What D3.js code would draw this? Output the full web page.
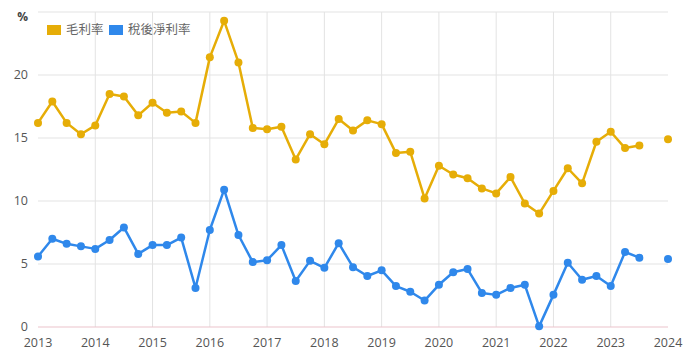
<!DOCTYPE html>
<html><head><meta charset="utf-8">
<script src="https://cdn.jsdelivr.net/npm/d3@7/dist/d3.min.js"></script>
<style>
html,body{margin:0;padding:0;background:#fff;}
text{font-family:"Open Sans","Noto Sans CJK TC",sans-serif;}
</style></head>
<body><svg id="c" width="696" height="361"></svg>
<script>
// quarters from 2013 Q1 (null = missing)
const quarters = d3.range(45).map(i => 2013 + i / 4);
const grossMargin = [16.2,17.9,16.2,15.3, 16.0,18.5,18.3,16.8, 17.8,17.0,17.1,16.2,
  21.4,24.3,21.0,15.8, 15.7,15.9,13.3,15.3, 14.5,16.5,15.6,16.4, 16.1,13.8,13.9,10.2,
  12.8,12.1,11.8,11.0, 10.6,11.9,9.8,9.0, 10.8,12.6,11.4,14.7, 15.5,14.2,14.4,null, 14.9];
const netMargin = [5.6,7.0,6.6,6.4, 6.2,6.9,7.9,5.8, 6.5,6.5,7.1,3.1,
  7.7,10.9,7.3,5.15, 5.3,6.5,3.65,5.25, 4.7,6.65,4.75,4.05, 4.5,3.25,2.8,2.1,
  3.35,4.35,4.6,2.7, 2.55,3.1,3.35,0.05, 2.55,5.1,3.75,4.05, 3.25,5.95,5.5,null, 5.4];
const yearTicks = d3.range(2013, 2025);
const yTicks = [0,5,10,15,20,25];
const seriesNames = ["毛利率","稅後淨利率"];
const colors = ["#e6ad07","#2f88eb"];

const svg = d3.select("#c");
const x = d3.scaleLinear().domain([2013, 2024]).range([38, 668]);
const y = d3.scaleLinear().domain([0, 25]).range([327, 12]);

// grid
svg.append("g").selectAll("line").data(yTicks.filter(v => v > 0)).join("line")
  .attr("x1", 38).attr("x2", 668).attr("y1", d => y(d)).attr("y2", d => y(d))
  .attr("stroke", "#e3e3e3").attr("stroke-width", 1);
svg.append("g").selectAll("line").data(yearTicks.filter(v => v > 2013 && v < 2024)).join("line")
  .attr("x1", d => x(d)).attr("x2", d => x(d)).attr("y1", 12).attr("y2", 327)
  .attr("stroke", "#e3e3e3").attr("stroke-width", 1);
svg.append("line").attr("x1", 38).attr("x2", 668).attr("y1", y(0)).attr("y2", y(0))
  .attr("stroke", "#ecc3cb").attr("stroke-width", 1.2);

// y labels
svg.append("g").selectAll("text").data(yTicks.filter(v => v < 25)).join("text")
  .attr("x", 28).attr("y", d => y(d)).attr("dy", "0.35em").attr("text-anchor", "end")
  .attr("font-size", 12.5).attr("fill", "#555").text(d => d);
svg.append("text").attr("x", 28).attr("y", 17).attr("dy", "0.35em").attr("text-anchor", "end")
  .attr("font-size", 12).attr("font-weight", "bold").attr("fill", "#444").text("%");

// x labels
svg.append("g").selectAll("text").data(yearTicks).join("text")
  .attr("x", d => x(d)).attr("y", 343).attr("dy", "0.35em").attr("text-anchor", "middle")
  .attr("font-size", 12.5).attr("fill", "#555").text(d => d);

// series
[grossMargin, netMargin].forEach((vals, i) => {
  const pts = quarters.map((q, j) => ({q, v: vals[j]}));
  const line = d3.line().defined(d => d.v != null).x(d => x(d.q)).y(d => y(d.v));
  svg.append("path").datum(pts).attr("d", line).attr("fill", "none")
    .attr("stroke", colors[i]).attr("stroke-width", 2.5).attr("stroke-linejoin", "round");
  svg.append("g").selectAll("circle").data(pts.filter(d => d.v != null)).join("circle")
    .attr("cx", d => x(d.q)).attr("cy", d => y(d.v)).attr("r", 4).attr("fill", colors[i]);
});

// legend
const leg = svg.append("g");
const legX = [47, 109];
seriesNames.forEach((n, i) => {
  leg.append("rect").attr("x", legX[i]).attr("y", 25).attr("width", 14).attr("height", 10).attr("fill", colors[i]);
  leg.append("text").attr("x", legX[i] + 19).attr("y", 30).attr("dy", "0.35em")
    .attr("font-size", 12.5).attr("fill", "#666").text(n);
});
</script></body></html>
